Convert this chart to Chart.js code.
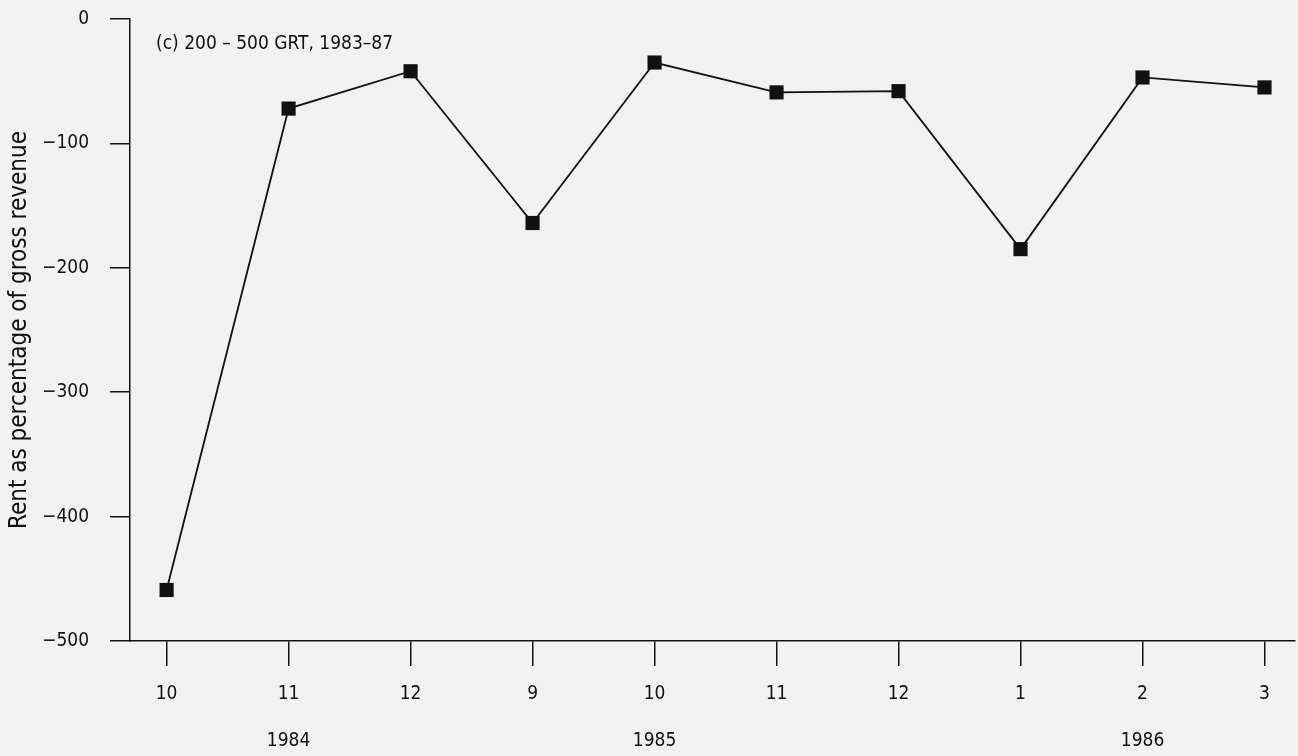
<!DOCTYPE html>
<html lang="en">
<head>
    <meta charset="UTF-8">
    <title>Rent as percentage of gross revenue</title>
    <script src="https://cdn.jsdelivr.net/npm/chart.js"></script>
    <style>
        html, body { margin: 0; padding: 0; background: #f1f1f1; }
        #wrap { width: 1298px; height: 756px; }
    </style>
</head>
<body>
    <div id="wrap"><canvas id="rentChart"></canvas></div>
    <script>
// month labels along the bottom, with the year under some of them
const months = ['10', '11', '12', '9', '10', '11', '12', '1', '2', '3'];
const years  = ['', '1984', '', '', '1985', '', '', '', '1986', ''];
// rent as % of gross revenue
const rentPct = [-459, -72, -42, -164, -35, -59, -58, -185, -47, -55];
const yTicks = [0, -100, -200, -300, -400, -500];

const FONT = "'DejaVu Sans Condensed', 'Liberation Sans', sans-serif";

// panel caption drawn inside the plot area
const captionPlugin = {
    id: 'caption',
    afterDraw(chart) {
        const ctx = chart.ctx;
        const area = chart.chartArea;
        ctx.save();
        ctx.fillStyle = '#111';
        ctx.font = '19px ' + FONT;
        ctx.textBaseline = 'middle';
        ctx.fillText('(c) 200 \u2013 500 GRT, 1983\u201387', area.left + 26, area.top + 25);
        ctx.restore();
    }
};

const ctx = document.getElementById('rentChart').getContext('2d');
new Chart(ctx, {
    type: 'line',
    data: {
        datasets: [{
            data: rentPct.map((v, i) => ({ x: i, y: v })),
            borderColor: '#111',
            borderWidth: 1.8,
            backgroundColor: '#111',
            pointStyle: 'rect',
            pointRadius: 10,
            pointBorderWidth: 0,
            tension: 0
        }]
    },
    options: {
        responsive: true,
        maintainAspectRatio: false,
        animation: false,
        layout: { autoPadding: false, padding: { top: 19, right: 3, left: 0, bottom: 0 } },
        plugins: {
            legend: { display: false },
            tooltip: { enabled: false }
        },
        scales: {
            x: {
                type: 'linear',
                min: -0.3,
                max: 9.25,
                afterBuildTicks: axis => {
                    axis.ticks = months.map((m, i) => ({ value: i }));
                },
                afterFit: s => {
                    s.height = 115;
                    s.paddingLeft = 0;
                    s.paddingRight = 0;
                },
                ticks: {
                    color: '#111',
                    font: { size: 19, family: FONT, lineHeight: '47px' },
                    padding: 5,
                    maxRotation: 0,
                    autoSkip: false,
                    callback: (v) => years[v] ? [months[v], years[v]] : [months[v], ' ']
                },
                grid: {
                    drawOnChartArea: false,
                    drawTicks: true,
                    tickLength: 25,
                    color: '#111',
                    lineWidth: 1.5
                },
                border: { display: true, color: '#111', width: 1.5 }
            },
            y: {
                min: -500,
                max: 0,
                afterBuildTicks: axis => {
                    axis.ticks = yTicks.map(v => ({ value: v }));
                },
                afterFit: s => {
                    s.width = 130;
                    s.paddingTop = 0;
                    s.paddingBottom = 0;
                },
                ticks: {
                    color: '#111',
                    font: { size: 19, family: FONT },
                    padding: 21,
                    callback: v => String(v).replace('-', '\u2212')
                },
                grid: {
                    drawOnChartArea: false,
                    drawTicks: true,
                    tickLength: 20,
                    color: '#111',
                    lineWidth: 1.5
                },
                border: { display: true, color: '#111', width: 1.5 },
                title: {
                    display: true,
                    text: 'Rent as percentage of gross revenue',
                    color: '#111',
                    font: { size: 24, family: FONT },
                    padding: { top: 5, bottom: 10 }
                }
            }
        }
    },
    plugins: [captionPlugin]
});
    </script>
</body>
</html>
